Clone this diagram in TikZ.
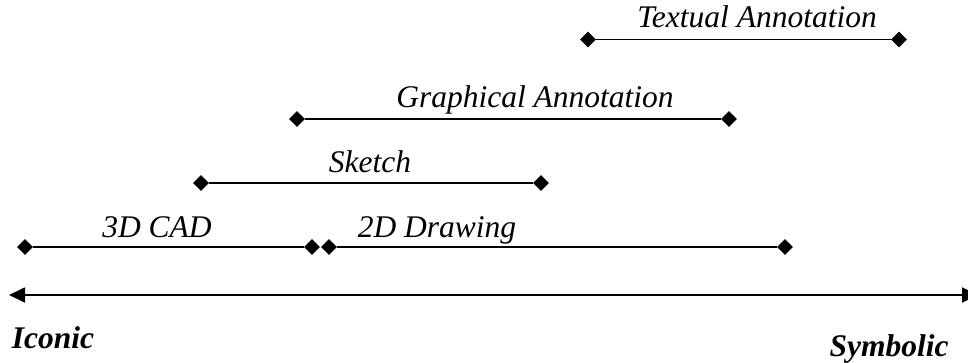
\documentclass[tikz,border=0pt]{standalone}
\usepackage{fontspec}
\setmainfont{Liberation Serif}
\usetikzlibrary{shapes.geometric,arrows.meta}
\begin{document}
\begin{tikzpicture}[x=1pt,y=-1pt,
  dia/.style={diamond,fill=black,inner sep=0pt,minimum size=16pt},
  seg/.style={line width=1.8pt},
  lab/.style={anchor=base,inner sep=0pt,font=\fontsize{31.5}{36}\selectfont\itshape},
  endlab/.style={anchor=base,inner sep=0pt,font=\fontsize{31.5}{36}\selectfont\bfseries\itshape}]
\useasboundingbox (0,0) rectangle (968,363);
% Textual Annotation
\node[dia] (ta1) at (588,39.5) {};
\node[dia] (ta2) at (899,39.5) {};
\draw[seg] (ta1) -- (ta2);
\node[lab] (tat) at (757,28) {Textual Annotation};
% Graphical Annotation
\node[dia] (ga1) at (297,119) {};
\node[dia] (ga2) at (729,119) {};
\draw[seg] (ga1) -- (ga2);
\node[lab] (gat) at (535,108) {Graphical Annotation};
% Sketch
\node[dia] (sk1) at (201,183) {};
\node[dia] (sk2) at (541,183) {};
\draw[seg] (sk1) -- (sk2);
\node[lab] (skt) at (370,173) {Sketch};
% 3D CAD
\node[dia] (cd1) at (25,247) {};
\node[dia] (cd2) at (312,247) {};
\draw[seg] (cd1) -- (cd2);
\node[lab] (cdt) at (157,237) {3D CAD};
% 2D Drawing
\node[dia] (dd1) at (329,247) {};
\node[dia] (dd2) at (785,247) {};
\draw[seg] (dd1) -- (dd2);
\node[lab] (ddt) at (437,237) {2D Drawing};
% axis
\coordinate (axl) at (9,295);
\coordinate (axr) at (978,295);
\draw[seg,{Triangle[length=16pt,width=15pt]}-{Triangle[length=16pt,width=15pt]}] (axl) -- (axr);
\node[endlab] (ico) at (53,348) {Iconic};
\node[endlab] (sym) at (889,356) {Symbolic};
\end{tikzpicture}
\end{document}
